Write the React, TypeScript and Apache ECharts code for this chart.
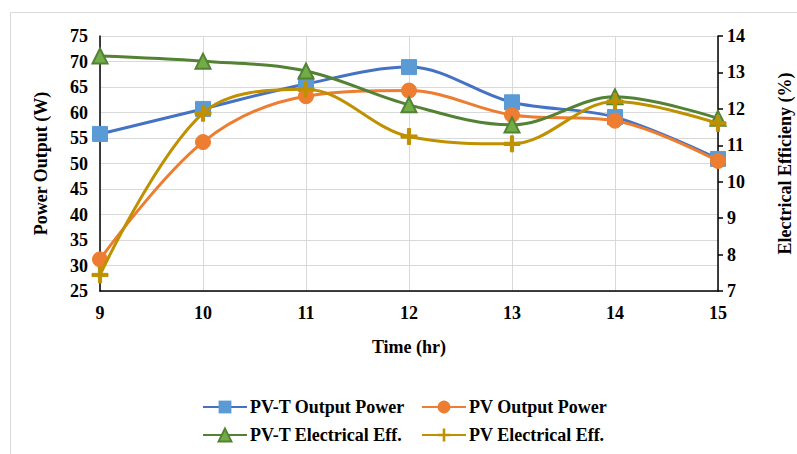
import React, { useEffect, useRef } from "react";
import * as echarts from "echarts";

const hours = [9, 10, 11, 12, 13, 14, 15];
const pvtPower = [55.8, 60.7, 65.6, 68.9, 62.0, 59.1, 50.9];
const pvPower = [31.2, 54.2, 63.2, 64.3, 59.5, 58.4, 50.5];
const pvtEff = [13.45, 13.31, 13.04, 12.11, 11.56, 12.33, 11.74];
const pvEff = [7.44, 11.88, 12.54, 11.24, 11.04, 12.2, 11.6];

const seriesNames = ["PV-T Output Power", "PV Output Power", "PV-T Electrical Eff.", "PV Electrical Eff."];

const FONT = "Liberation Serif";
const PLUS = "path://M4,0 L6,0 L6,4 L10,4 L10,6 L6,6 L6,10 L4,10 L4,6 L0,6 L0,4 L4,4 Z";

export default function App() {
  const ref = useRef<HTMLDivElement>(null);
  useEffect(() => {
    if (!ref.current) return;
    const chart = echarts.init(ref.current, null, { renderer: "svg" });
    const pair = (xs: number[], ys: number[]) => xs.map((x, i) => [x, ys[i]]);
    const txt = { fontFamily: FONT, fontWeight: "bold" as const, fontSize: 18, color: "#000" };
    const legendCommon = {
      itemWidth: 44,
      itemHeight: 16,
      textStyle: { ...txt, padding: [0, 0, 0, -2] },
      itemGap: 0,
    };
    chart.setOption({
      animation: false,
      backgroundColor: "#fff",
      textStyle: { fontFamily: FONT, fontWeight: "bold", fontSize: 18, color: "#000" },
      graphic: [
        {
          type: "rect",
          shape: { x: 10.5, y: 12.5, width: 800, height: 460 },
          style: { fill: "none", stroke: "#d9d9d9", lineWidth: 1 },
          silent: true,
        },
      ],
      legend: [
        { ...legendCommon, data: [seriesNames[0]], left: 197, top: 393 },
        { ...legendCommon, data: [seriesNames[1]], left: 416, top: 393 },
        { ...legendCommon, data: [seriesNames[2]], left: 197, top: 421 },
        { ...legendCommon, data: [seriesNames[3]], left: 416, top: 421 },
      ],
      grid: { left: 100, right: 79, top: 36, bottom: 163, outerBoundsMode: "none", containLabel: false },
      xAxis: {
        type: "value",
        min: 9,
        max: 15,
        interval: 1,
        name: "Time (hr)",
        nameLocation: "middle",
        nameGap: 47,
        nameTextStyle: { ...txt },
        axisLine: { show: true, lineStyle: { color: "#000", width: 1.5 } },
        axisTick: { show: false },
        axisLabel: { ...txt, margin: 13 },
        splitLine: { show: true, lineStyle: { color: "#d9d9d9", width: 1 } },
      },
      yAxis: [
        {
          type: "value",
          min: 25,
          max: 75,
          interval: 5,
          name: "Power Output (W)",
          nameLocation: "middle",
          nameGap: 50,
          nameTextStyle: { ...txt },
          axisLine: { show: true, lineStyle: { color: "#000", width: 1.5 } },
          axisTick: { show: false },
          axisLabel: { ...txt, margin: 12 },
          splitLine: { show: true, lineStyle: { color: "#d9d9d9", width: 1 } },
        },
        {
          type: "value",
          min: 7,
          max: 14,
          interval: 1,
          position: "right",
          name: "Electrical Efficieny (%)",
          nameLocation: "middle",
          nameGap: 58,
          nameRotate: 90,
          nameTextStyle: { ...txt },
          axisLine: { show: true, lineStyle: { color: "#000", width: 1.5 } },
          axisTick: { show: true, length: 5, lineStyle: { color: "#000", width: 1.5 } },
          axisLabel: { ...txt, margin: 9 },
          splitLine: { show: false },
        },
      ],
      series: [
        {
          name: seriesNames[0],
          type: "line",
          yAxisIndex: 0,
          smooth: 0.35,
          data: pair(hours, pvtPower),
          symbol: "rect",
          symbolSize: 15,
          lineStyle: { color: "#4472C4", width: 3 },
          itemStyle: { color: "#5B9BD5", borderColor: "#5B9BD5" },
          z: 3,
        },
        {
          name: seriesNames[1],
          type: "line",
          yAxisIndex: 0,
          smooth: 0.35,
          data: pair(hours, pvPower),
          symbol: "circle",
          symbolSize: 15,
          lineStyle: { color: "#ED7D31", width: 3 },
          itemStyle: { color: "#ED7D31", borderColor: "#ED7D31" },
          z: 4,
        },
        {
          name: seriesNames[2],
          type: "line",
          yAxisIndex: 1,
          smooth: 0.35,
          data: pair(hours, pvtEff),
          symbol: "triangle",
          symbolSize: 15,
          lineStyle: { color: "#548235", width: 3 },
          itemStyle: { color: "#70AD47", borderColor: "#548235", borderWidth: 2 },
          z: 5,
        },
        {
          name: seriesNames[3],
          type: "line",
          yAxisIndex: 1,
          smooth: 0.35,
          data: pair(hours, pvEff),
          symbol: PLUS,
          symbolSize: 16,
          lineStyle: { color: "#BF9000", width: 3 },
          itemStyle: { color: "#BF9000", borderColor: "#BF9000" },
          z: 6,
        },
      ],
    });
    return () => chart.dispose();
  }, []);
  return (
    <div
      ref={ref}
      style={{ position: "fixed", left: 0, top: 0, width: 797, height: 454, background: "#fff" }}
    />
  );
}
